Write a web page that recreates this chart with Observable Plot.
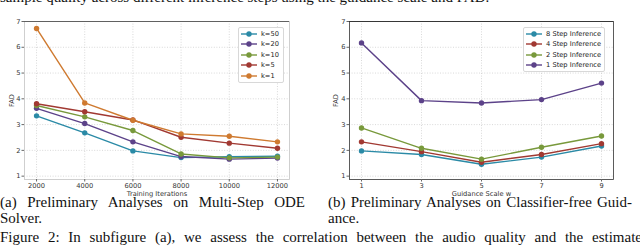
<!DOCTYPE html>
<html>
<head>
<meta charset="utf-8">
<script src="https://cdn.jsdelivr.net/npm/d3@7"></script>
<script src="https://cdn.jsdelivr.net/npm/@observablehq/plot@0.6"></script>
<style>
  html, body { margin: 0; padding: 0; background: #fff; width: 640px; height: 249px; overflow: hidden; }
  #root { position: relative; width: 640px; height: 249px; overflow: hidden; }
  .abs { position: absolute; }
  .serif { font-family: "Liberation Serif", "Times New Roman", serif; font-size: 15px; color: #111; white-space: nowrap; line-height: 16px; }
  .just { text-align: justify; text-align-last: justify; white-space: normal; }
  .legend { position: absolute; background: #fff; border: 0.8px solid #d8d8d8; border-radius: 2px;
            font-family: "DejaVu Sans", sans-serif; font-size: 6.7px; color: #222; }
  .legend .row { display: flex; align-items: center; height: 10.5px; }
  .legend svg { display: block; }
</style>
</head>
<body>
<div id="root"></div>
<script>
// ---------- data: subfigure (a) ----------
const iterations = [2000, 4000, 6000, 8000, 10000, 12000];
const kSeries = ["k=50", "k=20", "k=10", "k=5", "k=1"];
const k50 = [3.34, 2.68, 1.98, 1.72, 1.75, 1.77];
const k20 = [3.63, 3.04, 2.33, 1.76, 1.66, 1.70];
const k10 = [3.74, 3.30, 2.77, 1.86, 1.71, 1.74];
const k5  = [3.81, 3.50, 3.18, 2.51, 2.28, 2.08];
const k1  = [6.73, 3.84, 3.17, 2.64, 2.55, 2.33];
const kColors = ["#2a8aa6", "#5c4289", "#78993b", "#a13932", "#cf7a30"];

// ---------- data: subfigure (b) ----------
const guidance = [1, 3, 5, 7, 9];
const stepSeries = ["8 Step Inference", "4 Step Inference", "2 Step Inference", "1 Step Inference"];
const step8 = [1.98, 1.84, 1.46, 1.74, 2.17];
const step4 = [2.33, 1.95, 1.54, 1.84, 2.26];
const step2 = [2.87, 2.08, 1.66, 2.12, 2.56];
const step1 = [6.17, 3.93, 3.84, 3.97, 4.61];
const stepColors = ["#2a8aa6", "#a13932", "#78993b", "#5c4289"];

const yTicks = [1, 2, 3, 4, 5, 6, 7];

// ---------- text ----------
const topText = "sample quality across different inference steps using the guidance scale and FAD.";
const capA1 = "(a) Preliminary Analyses on Multi-Step ODE";
const capA2 = "Solver.";
const capB1 = "(b) Preliminary Analyses on Classifier-free Guid-";
const capB2 = "ance.";
const figCap = "Figure 2: In subfigure (a), we assess the correlation between the audio quality and the estimate";

const root = document.getElementById("root");

function tidy(xs, seriesNames, arrays) {
  const rows = [];
  seriesNames.forEach((s, i) => arrays[i].forEach((v, j) => rows.push({series: s, x: xs[j], y: v})));
  return rows;
}

function makeChart({rows, names, colors, xDomain, xTicks, xLabel, marginLeft, marginRight, frameStroke, topStroke, yLabelDx}) {
  const font = "DejaVu Sans, sans-serif";
  return Plot.plot({
    width: 320, height: 200,
    marginLeft, marginRight, marginTop: 21, marginBottom: 21,
    style: {fontFamily: font, fontSize: "6.7px", color: "#333", background: "transparent"},
    x: {domain: xDomain, label: null},
    y: {domain: [0.87, 7], label: null},
    color: {domain: names, range: colors},
    marks: [
      Plot.gridX(xTicks, {stroke: "#c8c8c8", strokeOpacity: 1, strokeDasharray: "1,1.6", strokeWidth: 0.7}),
      Plot.gridY(yTicks, {stroke: "#c8c8c8", strokeOpacity: 1, strokeDasharray: "1,1.6", strokeWidth: 0.7}),
      Plot.frame({stroke: frameStroke, strokeWidth: 0.8}),
      Plot.ruleY([7], {stroke: topStroke, strokeWidth: 0.9}),
      Plot.axisX(xTicks, {tickSize: 2.5, tickPadding: 1, tickFormat: d => String(d), label: null, stroke: "#666", fill: "#333"}),
      Plot.axisY(yTicks, {tickSize: 2.5, tickPadding: 1.5, tickFormat: d => String(d), label: null, stroke: "#666", fill: "#333"}),
      Plot.line(rows, {x: "x", y: "y", z: "series", stroke: "series", strokeWidth: 1.4}),
      Plot.dot(rows, {x: "x", y: "y", fill: "series", r: 2.7}),
      Plot.text([xLabel], {frameAnchor: "bottom", lineAnchor: "middle", textAnchor: "middle", dy: 14, text: d => d, fill: "#333", fontSize: "6.7px"}),
      Plot.text(["FAD"], {frameAnchor: "left", lineAnchor: "middle", textAnchor: "middle", dx: yLabelDx, rotate: -90, text: d => d, fill: "#333", fontSize: "6.7px"})
    ]
  });
}

// subfigure (a)
const chartA = makeChart({
  rows: tidy(iterations, kSeries, [k50, k20, k10, k5, k1]),
  names: kSeries, colors: kColors,
  xDomain: [1500, 12500], xTicks: iterations, xLabel: "Training Iterations",
  marginLeft: 24, marginRight: 31, frameStroke: "#c4c4c4", topStroke: "#555", yLabelDx: -13
});
chartA.style.position = "absolute"; chartA.style.left = "0px"; chartA.style.top = "0px";
root.appendChild(chartA);

// subfigure (b)
const chartB = makeChart({
  rows: tidy(guidance, stepSeries, [step8, step4, step2, step1]),
  names: stepSeries, colors: stepColors,
  xDomain: [0.6, 9.4], xTicks: guidance, xLabel: "Guidance Scale w",
  marginLeft: 29, marginRight: 27, frameStroke: "#333", topStroke: "#333", yLabelDx: -14
});
chartB.style.position = "absolute"; chartB.style.left = "320px"; chartB.style.top = "0px";
root.appendChild(chartB);

// legends
function legend(names, colors, left, top, width, textGap) {
  const box = document.createElement("div");
  box.className = "legend";
  box.style.left = left + "px"; box.style.top = top + "px"; box.style.width = width + "px";
  box.style.padding = "0.5px 0";
  names.forEach((n, i) => {
    const row = document.createElement("div");
    row.className = "row";
    row.innerHTML = `<svg width="${textGap}" height="10" style="margin-left:1px"><line x1="1" x2="${textGap - 4}" y1="5" y2="5" stroke="${colors[i]}" stroke-width="1.4"/><circle cx="${(textGap - 3) / 2}" cy="5" r="2.7" fill="${colors[i]}"/></svg><span>${n}</span>`;
    box.appendChild(row);
  });
  root.appendChild(box);
}
legend(kSeries, kColors, 238, 27, 44, 21);
legend(stepSeries, stepColors, 523, 27, 80, 21);

// captions
function addText(txt, left, top, width, cls) {
  const d = document.createElement("div");
  d.className = "abs serif " + (cls || "");
  d.style.left = left + "px"; d.style.top = top + "px";
  if (width) d.style.width = width + "px";
  d.textContent = txt;
  root.appendChild(d);
}
addText(topText, 0, -11);
addText(capA1, 0, 194, 305, "just");
addText(capA2, 0, 210);
addText(capB1, 328, 194, 304, "just");
addText(capB2, 328, 210);
addText(figCap, 0, 229, 642, "just");
</script>
</body>
</html>
